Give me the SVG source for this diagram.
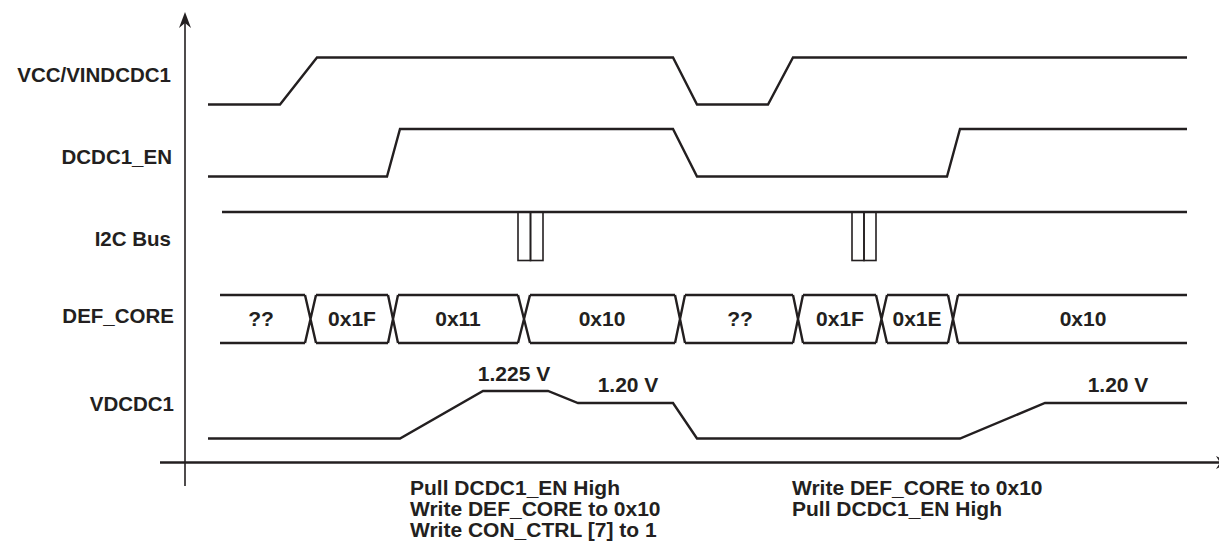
<svg xmlns="http://www.w3.org/2000/svg" width="1219" height="542" viewBox="0 0 1219 542">
<style>
.sig{fill:none;stroke:#231f20;stroke-width:2.4;stroke-linejoin:miter}
.thin{fill:none;stroke:#231f20;stroke-width:1.6}
.ax{fill:none;stroke:#231f20}
.lbl{font-family:"Liberation Sans",Arial,sans-serif;font-weight:bold;font-size:20.5px;fill:#231f20}
.big{font-size:21px}
.end{text-anchor:end}
.mid{text-anchor:middle}
</style>
<rect width="1219" height="542" fill="#fff"/>
<g id="axes">
<line class="ax" x1="185" y1="20" x2="185" y2="486" stroke-width="1.6"/>
<path d="M185,12 L179,28 L185,23 L191,28 Z" fill="#231f20"/>
<line class="ax" x1="160" y1="462.5" x2="1219" y2="462.5" stroke-width="2.6"/>
<path d="M1230,462.5 L1216,456 L1220,462.5 L1216,469 Z" fill="#231f20"/>
</g>
<g id="labels">
<text class="lbl end" x="171" y="82">VCC/VINDCDC1</text>
<text class="lbl end" x="172" y="164">DCDC1_EN</text>
<text class="lbl end" x="171" y="246">I2C Bus</text>
<text class="lbl end" x="174" y="323">DEF_CORE</text>
<text class="lbl end" x="174" y="411">VDCDC1</text>
</g>
<g id="vcc">
<path class="sig" d="M208,104.5 H280 L317,57.5 H673 L697,104.5 H768 L793,57.5 H1187"/>
</g>
<g id="dcdc1_en">
<path class="sig" d="M208,176.5 H387 L400,129 H673 L697,176.5 H947 L960,129 H1187"/>
</g>
<g id="i2c">
<line class="sig" x1="222" y1="212" x2="1187" y2="212"/>
<rect class="thin" x="518" y="212" width="12.5" height="48.5"/>
<rect class="thin" x="530.5" y="212" width="12.5" height="48.5"/>
<rect class="thin" x="852" y="212" width="12" height="48.5"/>
<rect class="thin" x="864" y="212" width="12" height="48.5"/>
</g>
<g id="def_core">
<path class="sig" d="M220,295 H305 M316,295 H388 M398,295 H518 M530,295 H675 M685,295 H793 M803,295 H876 M887,295 H948 M958,295 H1187"/>
<path class="sig" d="M220,343 H305 M316,343 H388 M398,343 H518 M530,343 H675 M685,343 H793 M803,343 H876 M887,343 H948 M958,343 H1187"/>
<path class="sig" d="M305,295 L316,343 M305,343 L316,295 M388,295 L398,343 M388,343 L398,295 M518,295 L530,343 M518,343 L530,295 M675,295 L685,343 M675,343 L685,295 M793,295 L803,343 M793,343 L803,295 M876,295 L887,343 M876,343 L887,295 M948,295 L958,343 M948,343 L958,295"/>
<text class="lbl big mid" x="261" y="326">??</text>
<text class="lbl big mid" x="352" y="326">0x1F</text>
<text class="lbl big mid" x="458" y="326">0x11</text>
<text class="lbl big mid" x="602" y="326">0x10</text>
<text class="lbl big mid" x="740" y="326">??</text>
<text class="lbl big mid" x="840" y="326">0x1F</text>
<text class="lbl big mid" x="917" y="326">0x1E</text>
<text class="lbl big mid" x="1083" y="326">0x10</text>
</g>
<g id="vdcdc1">
<path class="sig" d="M208,438.5 H400 L483,391 H548 L578,403 H673 L697,438.5 H960 L1045,403 H1187"/>
<text class="lbl big mid" x="514" y="381">1.225 V</text>
<text class="lbl big mid" x="628" y="392">1.20 V</text>
<text class="lbl big mid" x="1118" y="392">1.20 V</text>
</g>
<g id="notes">
<text class="lbl big" x="410" y="495">Pull DCDC1_EN High</text>
<text class="lbl big" x="410" y="516">Write DEF_CORE to 0x10</text>
<text class="lbl big" x="410" y="537">Write CON_CTRL [7] to 1</text>
<text class="lbl big" x="792" y="495">Write DEF_CORE to 0x10</text>
<text class="lbl big" x="792" y="516">Pull DCDC1_EN High</text>
</g>
</svg>
